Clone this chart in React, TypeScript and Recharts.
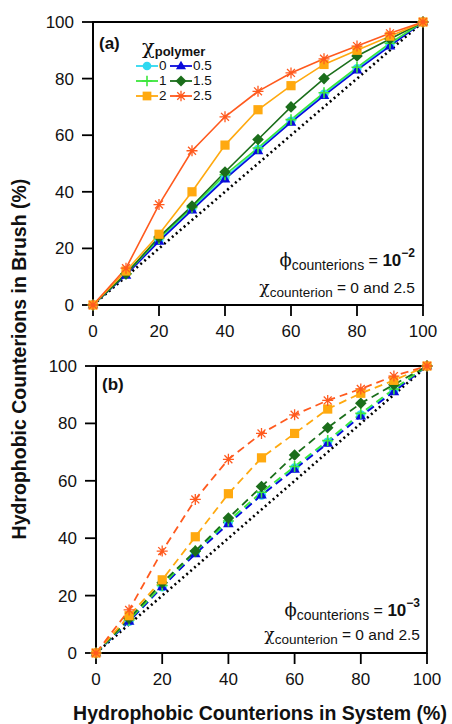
import React from 'react';
import { LineChart, Line, XAxis, YAxis, ReferenceLine, ReferenceArea } from 'recharts';

const systemPct = [0, 10, 20, 30, 40, 50, 60, 70, 80, 90, 100];
const chiPolymer = ['0', '0.5', '1', '1.5', '2', '2.5'];
const xTicks = [0, 20, 40, 60, 80, 100];
const yTicks = [0, 20, 40, 60, 80, 100];

// panel (a): phi_counterions = 1e-2
const a0 = [0, 11, 23, 34, 45, 55, 65, 74.5, 83.5, 92, 100];
const a05 = [0, 10.5, 22.5, 33.5, 44.5, 54.5, 64.5, 74, 83, 91.5, 100];
const a1 = [0, 11, 23.5, 34.5, 46, 55.5, 65.5, 75, 84, 92.5, 100];
const a15 = [0, 11, 24, 35, 47, 58.5, 70, 80, 88, 94, 100];
const a2 = [0, 12, 25, 40, 56.5, 69, 77.5, 85, 90, 95, 100];
const a25 = [0, 13, 35.5, 54.5, 66.5, 75.5, 82, 87, 91.5, 96, 100];

// panel (b): phi_counterions = 1e-3
const b0 = [0, 11, 23, 35, 45.5, 55, 64.5, 73.5, 83, 91.5, 100];
const b05 = [0, 11, 23, 34.5, 45, 55, 64, 73, 82.5, 91, 100];
const b1 = [0, 11.5, 23.5, 35.5, 46, 56, 65, 74, 83.5, 92, 100];
const b15 = [0, 12, 24.5, 35.5, 47, 58, 69, 78.5, 87, 93.5, 100];
const b2 = [0, 13, 25.5, 40.5, 55.5, 68, 76.5, 85, 90.5, 95, 100];
const b25 = [0, 15, 35.5, 53.5, 67.5, 76.5, 83, 88, 92, 96.5, 100];

const colors = ['#2ED8F0', '#0A0ADC', '#3CE63C', '#1B6E1B', '#FFA90F', '#FF5A1E'];
const shapes = ['circle', 'triangle', 'plus', 'diamond', 'square', 'star'];
const keys = ['s0', 's05', 's1', 's15', 's2', 's25'];

const buildRows = (series: number[][]) =>
  systemPct.map((x, i) => {
    const row: any = { x };
    keys.forEach((k, j) => (row[k] = series[j][i]));
    return row;
  });

const dataA = buildRows([a0, a05, a1, a15, a2, a25]);
const dataB = buildRows([b0, b05, b1, b15, b2, b25]);

const FONT = 'Arial, "Liberation Sans", sans-serif';

function Marker({ shape, cx, cy, color, s = 1 }: any) {
  if (cx == null || cy == null) return null;
  switch (shape) {
    case 'circle':
      return <circle cx={cx} cy={cy} r={4.6 * s} fill={color} />;
    case 'triangle': {
      const r = 5.6 * s;
      return (
        <polygon
          points={`${cx},${cy - r} ${cx + r * 0.95},${cy + r * 0.6} ${cx - r * 0.95},${cy + r * 0.6}`}
          fill={color}
        />
      );
    }
    case 'plus': {
      const r = 5.5 * s;
      return (
        <path d={`M${cx - r},${cy}H${cx + r}M${cx},${cy - r}V${cy + r}`} stroke={color} strokeWidth={1.6} fill="none" />
      );
    }
    case 'diamond': {
      const r = 5.8 * s;
      return <polygon points={`${cx},${cy - r} ${cx + r},${cy} ${cx},${cy + r} ${cx - r},${cy}`} fill={color} />;
    }
    case 'square': {
      const r = 4.6 * s;
      return <rect x={cx - r} y={cy - r} width={2 * r} height={2 * r} fill={color} />;
    }
    case 'star': {
      const r = 5.5 * s;
      const d = r * 0.72;
      return (
        <path
          d={`M${cx - r},${cy}H${cx + r}M${cx},${cy - r}V${cy + r}M${cx - d},${cy - d}L${cx + d},${cy + d}M${cx - d},${cy + d}L${cx + d},${cy - d}`}
          stroke={color}
          strokeWidth={1.3}
          fill="none"
        />
      );
    }
  }
  return null;
}

function Panel({ data, dashed, width, height, margin, yWidth, xHeight }: any) {
  return (
    <LineChart width={width} height={height} data={data} margin={margin}>
      <XAxis
        dataKey="x"
        type="number"
        domain={[0, 100]}
        ticks={xTicks}
        height={xHeight}
        tickSize={11}
        tickMargin={9}
        axisLine={{ stroke: '#000', strokeWidth: 1.8 }}
        tickLine={{ stroke: '#000', strokeWidth: 1.8 }}
        tick={{ fontSize: 17, fill: '#111', fontFamily: FONT }}
      />
      <YAxis
        type="number"
        domain={[0, 100]}
        ticks={yTicks}
        width={yWidth}
        tickSize={11}
        tickMargin={8}
        axisLine={{ stroke: '#000', strokeWidth: 1.8 }}
        tickLine={{ stroke: '#000', strokeWidth: 1.8 }}
        tick={{ fontSize: 17, fill: '#111', fontFamily: FONT }}
      />
      <ReferenceArea x1={0} x2={100} y1={0} y2={100} fill="none" fillOpacity={0} stroke="#000" strokeWidth={1.8} />
      <ReferenceLine
        segment={[
          { x: 0, y: 0 },
          { x: 100, y: 100 },
        ]}
        stroke="#000"
        strokeWidth={2.6}
        strokeDasharray="2 3.2"
      />
      {keys.map((k, j) => (
        <Line
          key={k}
          dataKey={k}
          stroke={colors[j]}
          strokeWidth={dashed ? 1.8 : 1.6}
          strokeDasharray={dashed ? '8 5' : undefined}
          isAnimationActive={false}
          dot={(p: any) => <Marker key={`${k}-${p.index}`} shape={shapes[j]} cx={p.cx} cy={p.cy} color={colors[j]} />}
          activeDot={false}
        />
      ))}
    </LineChart>
  );
}

function LegendItem({ j }: any) {
  return (
    <div style={{ display: 'flex', alignItems: 'center', height: 15 }}>
      <svg width={22} height={14} style={{ display: 'block' }}>
        <line x1={0} x2={22} y1={7} y2={7} stroke={colors[j]} strokeWidth={1.8} />
        <Marker shape={shapes[j]} cx={11} cy={7} color={colors[j]} s={0.95} />
      </svg>
      <span style={{ fontSize: 13.5, marginLeft: 1, lineHeight: '15px' }}>{chiPolymer[j]}</span>
    </div>
  );
}

function Annotation({ exp, right, top, h1, h2 }: any) {
  return (
    <div style={{ position: 'absolute', right, top, whiteSpace: 'nowrap', color: '#111', textAlign: 'right' }}>
      <div style={{ height: h1, lineHeight: `${h1}px` }}>
        <span style={{ fontSize: 18, fontFamily: '"DejaVu Serif", serif' }}>ϕ</span>
        <span style={{ fontSize: 14, position: 'relative', top: 4 }}>counterions</span>
        <span style={{ fontSize: 16 }}> = </span>
        <span style={{ fontSize: 17, fontWeight: 'bold' }}>10</span>
        <span style={{ fontSize: 12, fontWeight: 'bold', position: 'relative', top: -9 }}>−{exp}</span>
      </div>
      <div style={{ height: h2, lineHeight: `${h2}px` }}>
        <span style={{ fontSize: 17, fontFamily: '"DejaVu Serif", serif' }}>χ</span>
        <span style={{ fontSize: 13.5, position: 'relative', top: 4 }}>counterion</span>
        <span style={{ fontSize: 15.5 }}> = 0 and 2.5</span>
      </div>
    </div>
  );
}

export default function App() {
  return (
    <div
      style={{
        position: 'absolute',
        left: 0,
        top: 0,
        width: 452,
        height: 724,
        background: '#fff',
        fontFamily: FONT,
        color: '#111',
        overflow: 'hidden',
      }}
    >
      <div style={{ position: 'absolute', left: 0, top: 0 }}>
        <Panel
          data={dataA}
          dashed={false}
          width={452}
          height={345}
          margin={{ top: 22, right: 29, bottom: 0, left: 0 }}
          yWidth={93}
          xHeight={40}
        />
      </div>
      <div style={{ position: 'absolute', left: 0, top: 345 }}>
        <Panel
          data={dataB}
          dashed={true}
          width={452}
          height={379}
          margin={{ top: 21, right: 25, bottom: 0, left: 0 }}
          yWidth={96}
          xHeight={71}
        />
      </div>

      {/* panel labels */}
      <div style={{ position: 'absolute', left: 99, top: 34, fontSize: 17, fontWeight: 'bold', lineHeight: '20px' }}>(a)</div>
      <div style={{ position: 'absolute', left: 102, top: 375, fontSize: 17, fontWeight: 'bold', lineHeight: '20px' }}>(b)</div>

      {/* legend */}
      <div style={{ position: 'absolute', left: 142, top: 38, whiteSpace: 'nowrap', lineHeight: '18px' }}>
        <span style={{ fontSize: 21, fontFamily: '"DejaVu Serif", serif' }}>χ</span>
        <span style={{ fontSize: 13, fontWeight: 'bold', position: 'relative', top: 2 }}>polymer</span>
      </div>
      <div style={{ position: 'absolute', left: 136, top: 58 }}>
        {[0, 2, 4].map((j) => (
          <LegendItem key={j} j={j} />
        ))}
      </div>
      <div style={{ position: 'absolute', left: 170, top: 58 }}>
        {[1, 3, 5].map((j) => (
          <LegendItem key={j} j={j} />
        ))}
      </div>

      {/* annotations */}
      <Annotation exp="2" right={452 - 415} top={245} h1={29} h2={26} />
      <Annotation exp="3" right={452 - 420} top={598} h1={24} h2={24} />

      {/* axis titles */}
      <div
        style={{
          position: 'absolute',
          left: 19 - 200,
          top: 359 - 13,
          width: 400,
          height: 26,
          lineHeight: '26px',
          textAlign: 'center',
          transform: 'rotate(-90deg)',
          whiteSpace: 'nowrap',
          fontWeight: 'bold',
          fontSize: 19.5,
        }}
      >
        Hydrophobic Counterions in Brush (%)
      </div>
      <div
        style={{
          position: 'absolute',
          left: 70,
          top: 703,
          width: 380,
          height: 21,
          lineHeight: '21px',
          textAlign: 'center',
          whiteSpace: 'nowrap',
          fontWeight: 'bold',
          fontSize: 19.5,
        }}
      >
        Hydrophobic Counterions in System (%)
      </div>
    </div>
  );
}
